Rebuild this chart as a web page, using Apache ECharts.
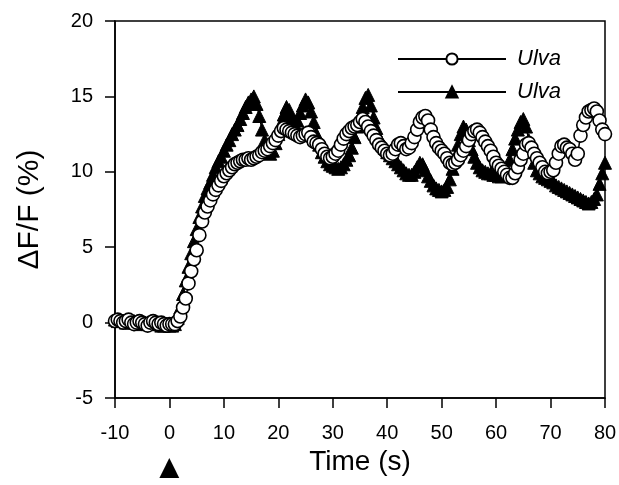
<!DOCTYPE html>
<html>
<head>
<meta charset="utf-8">
<script src="https://cdn.jsdelivr.net/npm/echarts@6/dist/echarts.min.js"></script>
<style>
html, body { margin: 0; padding: 0; background: #fff; }
#chart { width: 619px; height: 485px; }
</style>
</head>
<body>
<div id="chart"></div>
<script>
// Sample times (s)
var times = [
    -10, -9.5, -9, -8.5, -8, -7.5, -7, -6.5, -6, -5.5, -5, -4.5, -4, -3.5, -3, -2.5, -2, -1.5, -1, -0.5,
    0, 0.5, 1, 1.5, 2, 2.5, 3, 3.5, 4, 4.5, 5, 5.5, 6, 6.5, 7, 7.5, 8, 8.5, 9, 9.5,
    10, 10.5, 11, 11.5, 12, 12.5, 13, 13.5, 14, 14.5, 15, 15.5, 16, 16.5, 17, 17.5, 18, 18.5, 19, 19.5,
    20, 20.5, 21, 21.5, 22, 22.5, 23, 23.5, 24, 24.5, 25, 25.5, 26, 26.5, 27, 27.5, 28, 28.5, 29, 29.5,
    30, 30.5, 31, 31.5, 32, 32.5, 33, 33.5, 34, 34.5, 35, 35.5, 36, 36.5, 37, 37.5, 38, 38.5, 39, 39.5,
    40, 40.5, 41, 41.5, 42, 42.5, 43, 43.5, 44, 44.5, 45, 45.5, 46, 46.5, 47, 47.5, 48, 48.5, 49, 49.5,
    50, 50.5, 51, 51.5, 52, 52.5, 53, 53.5, 54, 54.5, 55, 55.5, 56, 56.5, 57, 57.5, 58, 58.5, 59, 59.5,
    60, 60.5, 61, 61.5, 62, 62.5, 63, 63.5, 64, 64.5, 65, 65.5, 66, 66.5, 67, 67.5, 68, 68.5, 69, 69.5,
    70, 70.5, 71, 71.5, 72, 72.5, 73, 73.5, 74, 74.5, 75, 75.5, 76, 76.5, 77, 77.5, 78, 78.5, 79, 79.5,
    80
];

// Open circles (dF/F, %)
var circleValues = [
    0.1, 0.2, 0.1, 0, 0.1, 0.2, 0, -0.1, 0, 0.1, 0, -0.1, -0.2, 0, 0.1, 0, -0.1, 0, -0.1, -0.2,
    -0.1, -0.1, -0.1, 0.1, 0.4, 1.0, 1.6, 2.6, 3.4, 4.2, 4.8, 5.8, 6.7, 7.3, 7.7, 8.1, 8.5, 8.8, 9.1, 9.4,
    9.7, 9.9, 10.1, 10.3, 10.5, 10.6, 10.7, 10.8, 10.8, 10.9, 10.8, 10.9, 11.0, 11.1, 11.3, 11.4, 11.5, 11.7, 11.9, 12.1,
    12.4, 12.7, 12.9, 12.8, 12.7, 12.6, 12.5, 12.4, 12.3, 12.4, 12.5, 12.6, 12.3, 12.0, 11.9, 11.8, 11.5, 11.2, 11.0, 10.9,
    11.0, 11.2, 11.4, 11.8, 12.2, 12.5, 12.7, 12.9, 13.0, 13.1, 13.3, 13.5, 13.3, 13.0, 12.7, 12.4, 12.1, 11.8, 11.6, 11.4,
    11.2, 11.1, 11.2, 11.5, 11.8, 11.9, 11.7, 11.5, 11.6, 11.9, 12.3, 12.8, 13.3, 13.6, 13.7, 13.4, 12.8, 12.3, 11.9, 11.6,
    11.4, 11.2, 10.9, 10.6, 10.5, 10.6, 10.8, 11.1, 11.4, 11.7, 12.1, 12.5, 12.7, 12.8, 12.6, 12.3, 12.0, 11.7, 11.4, 11.0,
    10.6, 10.4, 10.2, 10.0, 9.8, 9.6, 9.6, 9.9, 10.3, 10.8, 11.2, 11.8, 11.9, 11.6, 11.2, 10.9, 10.6, 10.3, 10.0, 9.9,
    10.0, 10.1, 10.6, 11.2, 11.7, 11.8, 11.6, 11.5, 11.2, 10.8, 11.2, 12.4, 13.1, 13.6, 14.0, 14.1, 14.2, 14.0, 13.4, 12.8,
    12.5
];

// Filled triangles (dF/F, %)
var triangleValues = [
    0.2, 0.1, 0.2, 0.1, 0, 0.1, 0, 0.1, 0, -0.1, 0, 0, -0.1, 0, 0.1, 0, -0.1, -0.2, -0.2, -0.1,
    -0.2, -0.2, -0.1, 0.3, 1.0, 1.9, 2.8, 3.7, 4.6, 5.4, 6.2, 7.0, 7.7, 8.4, 8.9, 9.3, 9.8, 10.3, 10.7, 11.0,
    11.4, 11.8, 12.1, 12.5, 12.8, 13.1, 13.5, 13.9, 14.3, 14.6, 14.8, 15.0, 14.5, 13.7, 12.8, 12.1, 11.5, 11.2, 11.4, 11.9,
    12.5, 13.2, 13.8, 14.3, 14.1, 13.6, 13.2, 13.4, 13.9, 14.4, 14.8, 14.6, 14.0, 13.3, 12.5, 11.8, 11.3, 11.0, 10.7, 10.5,
    10.4, 10.3, 10.2, 10.3, 10.5, 10.8, 11.1, 11.6, 12.3, 13.0, 13.7, 14.3, 14.9, 15.1, 14.4, 13.6, 12.9, 12.3, 11.9, 11.6,
    11.3, 11.1, 10.9, 10.7, 10.5, 10.3, 10.1, 9.9, 9.8, 9.8, 10.0, 10.3, 10.6, 10.5, 10.1, 9.7, 9.4, 9.1, 8.9, 8.8,
    8.7, 8.8, 9.0, 9.5, 10.2, 11.0, 11.8, 12.5, 13.0, 12.8, 12.1, 11.5, 11.0, 10.6, 10.3, 10.1, 10.0, 9.9, 9.9, 9.8,
    9.8, 9.7, 9.7, 9.8, 10.2, 10.8, 11.5, 12.2, 12.8, 13.3, 13.5, 13.0, 12.1, 11.3, 10.6, 10.1, 9.9, 9.7, 9.6, 9.5,
    9.4, 9.3, 9.1, 9.0, 8.9, 8.8, 8.7, 8.6, 8.5, 8.4, 8.3, 8.2, 8.1, 8.0, 7.9, 8.0, 8.2, 8.5, 9.2, 9.9,
    10.6
];

var seriesNames = ['Ulva-circle', 'Ulva-triangle'];
var legendLabels = {'Ulva-circle': 'Ulva', 'Ulva-triangle': 'Ulva'};

var pairs = function(xs, ys) {
    return xs.map(function(x, i) { return [x, ys[i]]; });
};

var chart = echarts.init(document.getElementById('chart'));

var font = '"Liberation Sans", Arial, sans-serif';

chart.setOption({
    animation: false,
    backgroundColor: '#fff',
    textStyle: { fontFamily: font, color: '#000' },

    grid: {
        left: 115, right: 14, top: 21, bottom: 87,
        outerBoundsMode: 'none',
        containLabel: false,
        show: true, borderColor: '#000', borderWidth: 1.5
    },

    legend: {
        data: seriesNames,
        orient: 'vertical',
        left: 392,
        top: 43,
        itemWidth: 108,
        itemHeight: 14,
        itemGap: 11,
        formatter: function(name) { return legendLabels[name]; },
        textStyle: { fontSize: 22, fontStyle: 'italic', color: '#000', fontFamily: font, padding: [0, 0, 0, 6] }
    },

    xAxis: {
        type: 'value',
        min: -10, max: 80, interval: 10,
        name: 'Time (s)',
        nameLocation: 'middle',
        nameGap: 50,
        nameMoveOverlap: false,
        nameTextStyle: { fontSize: 28, color: '#000', fontFamily: font },
        axisLine: { onZero: false, lineStyle: { color: '#000', width: 1.5 } },
        axisTick: { inside: false, length: 10, lineStyle: { color: '#000', width: 1.5 } },
        splitLine: { show: false },
        axisLabel: {
            fontSize: 20, lineHeight: 22, color: '#000', margin: 24, fontFamily: font,
            formatter: function(v) { return v === 0 ? '0\n{tri|▲}' : String(v); },
            rich: { tri: { fontSize: 34, lineHeight: 50, color: '#000' } }
        }
    },

    yAxis: {
        type: 'value',
        min: -5, max: 20, interval: 5,
        name: 'ΔF/F (%)',
        nameLocation: 'middle',
        nameGap: 70,
        nameMoveOverlap: false,
        nameTextStyle: { fontSize: 30, color: '#000', fontFamily: font },
        axisLine: { onZero: false, lineStyle: { color: '#000', width: 1.5 } },
        axisTick: { inside: false, length: 10, lineStyle: { color: '#000', width: 1.5 } },
        splitLine: { show: false },
        axisLabel: { fontSize: 20, color: '#000', margin: 22, fontFamily: font }
    },

    series: [{
        name: 'Ulva-triangle',
        type: 'line',
        data: pairs(times, triangleValues),
        symbol: 'triangle',
        symbolSize: 13,
        showAllSymbol: true,
        clip: false,
        lineStyle: { color: '#000', width: 1.5 },
        itemStyle: { color: '#000', borderColor: '#000', borderWidth: 1 },
        z: 2
    }, {
        name: 'Ulva-circle',
        type: 'line',
        data: pairs(times, circleValues),
        symbol: 'circle',
        symbolSize: 13,
        showAllSymbol: true,
        clip: false,
        lineStyle: { color: '#000', width: 1.5 },
        itemStyle: { color: '#fff', borderColor: '#000', borderWidth: 1.6 },
        z: 3
    }]
});
</script>
</body>
</html>
